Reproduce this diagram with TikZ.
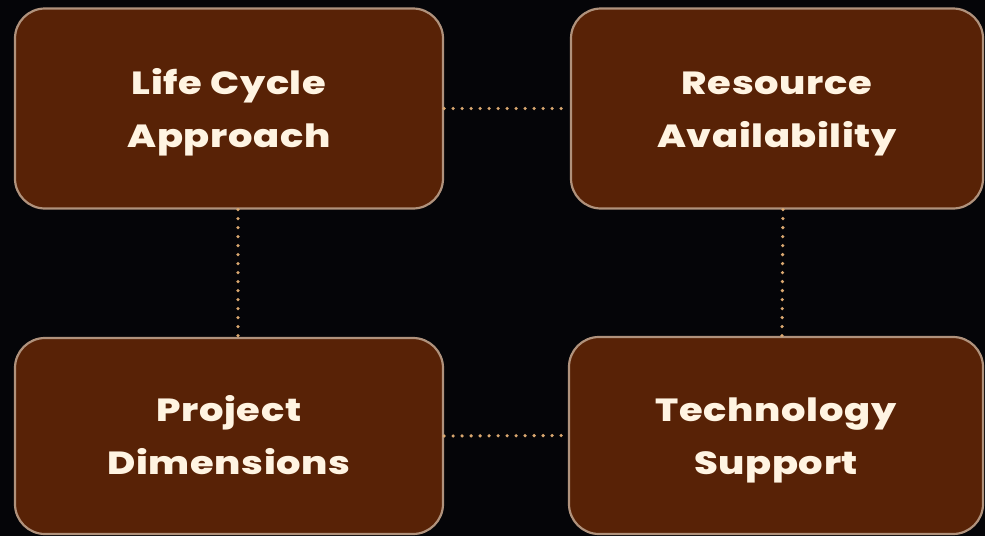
\documentclass[tikz,border=0pt]{standalone}
\usepackage{fontspec}
\setmainfont{Poppins}
\newfontfamily\boxfont{Poppins}[UprightFont=* ExtraBold, LetterSpace=2, FakeStretch=1.2]
\usetikzlibrary{positioning}

\definecolor{bgblack}{RGB}{5,5,8}
\definecolor{boxbrown}{RGB}{88,34,6}
\definecolor{boxedge}{RGB}{176,146,124}
\definecolor{dotline}{RGB}{218,168,112}
\definecolor{cream}{RGB}{255,244,226}

\tikzset{
    factor/.style={draw=boxedge, line width=2.2pt, fill=boxbrown, rounded corners=30pt,
        minimum width=428pt, minimum height=200pt, align=center, text=cream,
        font=\fontsize{32}{53}\boxfont, text height=77pt, text depth=0pt},
    link/.style={dotline, line width=3.6pt, line cap=round, dash pattern=on 0pt off 9pt}
}

\begin{document}
\begin{tikzpicture}[x=1pt, y=-1pt]
    % Canvas
    \fill[bgblack] (0,0) rectangle (985,536);
    \useasboundingbox (0,0) rectangle (985,536);

    % Four boxes
    \node[factor] (life) at (229,108.5) {Life Cycle\\Approach};
    \node[factor, minimum width=412pt] (res) at (777,108.5) {Resource\\Availability};
    \node[factor, minimum height=196pt] (proj) at (229,436) {Project\\Dimensions};
    \node[factor, minimum width=414pt, minimum height=197pt] (tech) at (776,435.5) {Technology\\Support};

    % Dotted links
    \draw[link] (life.east) -- (res.west);
    \draw[link] (proj.east) -- (tech.west);
    \draw[link] ([xshift=9pt]life.south) -- ([xshift=9pt]proj.north);
    \draw[link] ([xshift=6pt]res.south) -- ([xshift=6pt]tech.north);
\end{tikzpicture}
\end{document}
